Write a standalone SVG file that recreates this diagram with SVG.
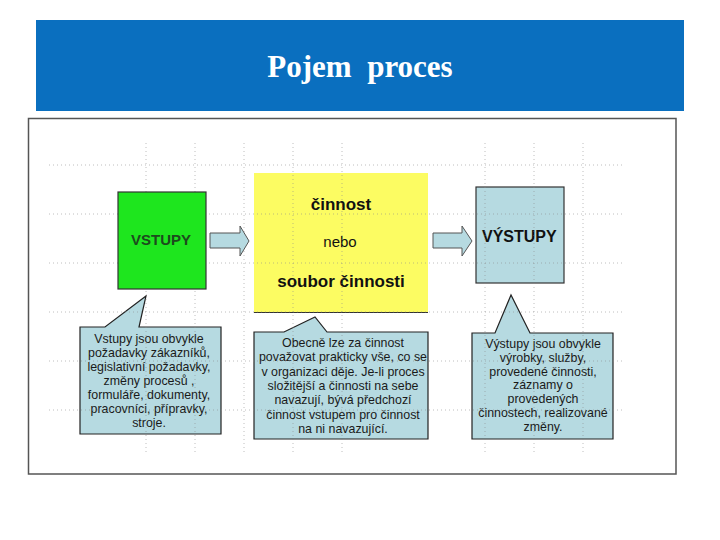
<svg xmlns="http://www.w3.org/2000/svg" width="720" height="540" viewBox="0 0 720 540">
  <style>
    .sans { font-family: "Liberation Sans", Arial, sans-serif; }
    .call { fill: #b6dae1; stroke: #222; stroke-width: 1.2; }
    .ctext { font-family: "Liberation Sans", Arial, sans-serif; font-size: 12.4px; fill: #1a1a1a; text-anchor: middle; }
    .grid { stroke: #8a8a8a; stroke-width: 1; stroke-dasharray: 1 3; opacity: 0.55; }
    .arrow { fill: #b6dae1; stroke: #555; stroke-width: 1; }
  </style>
  <rect x="0" y="0" width="720" height="540" fill="#ffffff"/>

  <g id="header">
    <rect x="36" y="20" width="648" height="91" fill="#0a6fbf"/>
    <text x="360" y="77" font-family="'Liberation Serif', 'Times New Roman', serif" font-size="31" font-weight="bold" fill="#ffffff" text-anchor="middle" xml:space="preserve">Pojem  proces</text>
  </g>

  <g id="panel">
    <rect x="28.5" y="118.5" width="647.5" height="355.5" fill="#ffffff" stroke="#555" stroke-width="1.5"/>
  </g>

  <g id="yellow-box">
    <rect x="254" y="173" width="174" height="139" fill="#fcfc62"/>
    <line x1="254" y1="312.5" x2="428" y2="312.5" stroke="#333" stroke-width="1.2"/>
    <text class="sans" x="341" y="210" font-size="17" font-weight="bold" fill="#111" text-anchor="middle">činnost</text>
    <text class="sans" x="340" y="247" font-size="15" fill="#111" text-anchor="middle">nebo</text>
    <text class="sans" x="341" y="287" font-size="17" font-weight="bold" fill="#111" text-anchor="middle">soubor činnosti</text>
  </g>

  <g id="vystupy-box">
    <rect x="476" y="187" width="88" height="96" fill="#b6dae1" stroke="#333" stroke-width="1.2"/>
    <text class="sans" x="482" y="242" font-size="16" font-weight="bold" fill="#111">VÝSTUPY</text>
  </g>

  <g id="callout-vstupy">
    <path class="call" d="M80,327 L105,327 L146,296 L139,327 L221,327 L221,434 L80,434 Z"/>
    <text class="ctext" x="149" y="343">Vstupy jsou obvykle</text>
    <text class="ctext" x="149" y="357">požadavky zákazníků,</text>
    <text class="ctext" x="149" y="371">legislativní požadavky,</text>
    <text class="ctext" x="149" y="385">změny procesů ,</text>
    <text class="ctext" x="149" y="399">formuláře, dokumenty,</text>
    <text class="ctext" x="149" y="413">pracovníci, přípravky,</text>
    <text class="ctext" x="149" y="427">stroje.</text>
  </g>

  <g id="callout-cinnost">
    <path class="call" d="M254,332 L284,332 L315,317 L327,332 L428,332 L428,439 L254,439 Z"/>
    <text class="ctext" x="343" y="347">Obecně lze za činnost</text>
    <text class="ctext" x="343" y="361">považovat prakticky vše, co se</text>
    <text class="ctext" x="343" y="376">v organizaci děje. Je-li proces</text>
    <text class="ctext" x="343" y="390">složitější a činnosti na sebe</text>
    <text class="ctext" x="343" y="404">navazují, bývá předchozí</text>
    <text class="ctext" x="343" y="419">činnost vstupem pro činnost</text>
    <text class="ctext" x="343" y="433">na ni navazující.</text>
  </g>

  <g id="callout-vystupy">
    <path class="call" d="M472,333 L495,333 L511,295 L530,333 L613,333 L613,439 L472,439 Z"/>
    <text class="ctext" x="543" y="348">Výstupy jsou obvykle</text>
    <text class="ctext" x="543" y="362">výrobky, služby,</text>
    <text class="ctext" x="543" y="376">provedené činnosti,</text>
    <text class="ctext" x="543" y="389">záznamy o</text>
    <text class="ctext" x="543" y="403">provedených</text>
    <text class="ctext" x="543" y="417">činnostech, realizované</text>
    <text class="ctext" x="543" y="431">změny.</text>
  </g>

  <g id="grid">
    <line class="grid" x1="146" y1="143" x2="146" y2="453"/>
    <line class="grid" x1="195" y1="143" x2="195" y2="453"/>
    <line class="grid" x1="244" y1="143" x2="244" y2="453"/>
    <line class="grid" x1="293" y1="143" x2="293" y2="453"/>
    <line class="grid" x1="342" y1="143" x2="342" y2="453"/>
    <line class="grid" x1="485" y1="143" x2="485" y2="453"/>
    <line class="grid" x1="534" y1="143" x2="534" y2="453"/>
    <line class="grid" x1="583" y1="143" x2="583" y2="453"/>
    <line class="grid" x1="49" y1="165" x2="622" y2="165" opacity="0.25"/>
    <line class="grid" x1="49" y1="214" x2="622" y2="214"/>
    <line class="grid" x1="49" y1="263" x2="622" y2="263"/>
    <line class="grid" x1="49" y1="312" x2="622" y2="312"/>
    <line class="grid" x1="49" y1="361" x2="622" y2="361"/>
    <line class="grid" x1="49" y1="410" x2="622" y2="410"/>
  </g>

  <g id="vstupy-box">
    <rect x="118" y="192" width="88" height="97" fill="#1ee61e" stroke="#333" stroke-width="1.2"/>
    <text class="sans" x="161" y="245" font-size="15" font-weight="bold" fill="#1d4a1d" text-anchor="middle">VSTUPY</text>
  </g>

  <g id="connectors">
    <polygon class="arrow" points="210,233 240,233 240,226 249,241 240,256 240,248 210,248"/>
    <polygon class="arrow" points="433,233 462,233 462,226 472,241 462,256 462,248 433,248"/>
  </g>
</svg>
